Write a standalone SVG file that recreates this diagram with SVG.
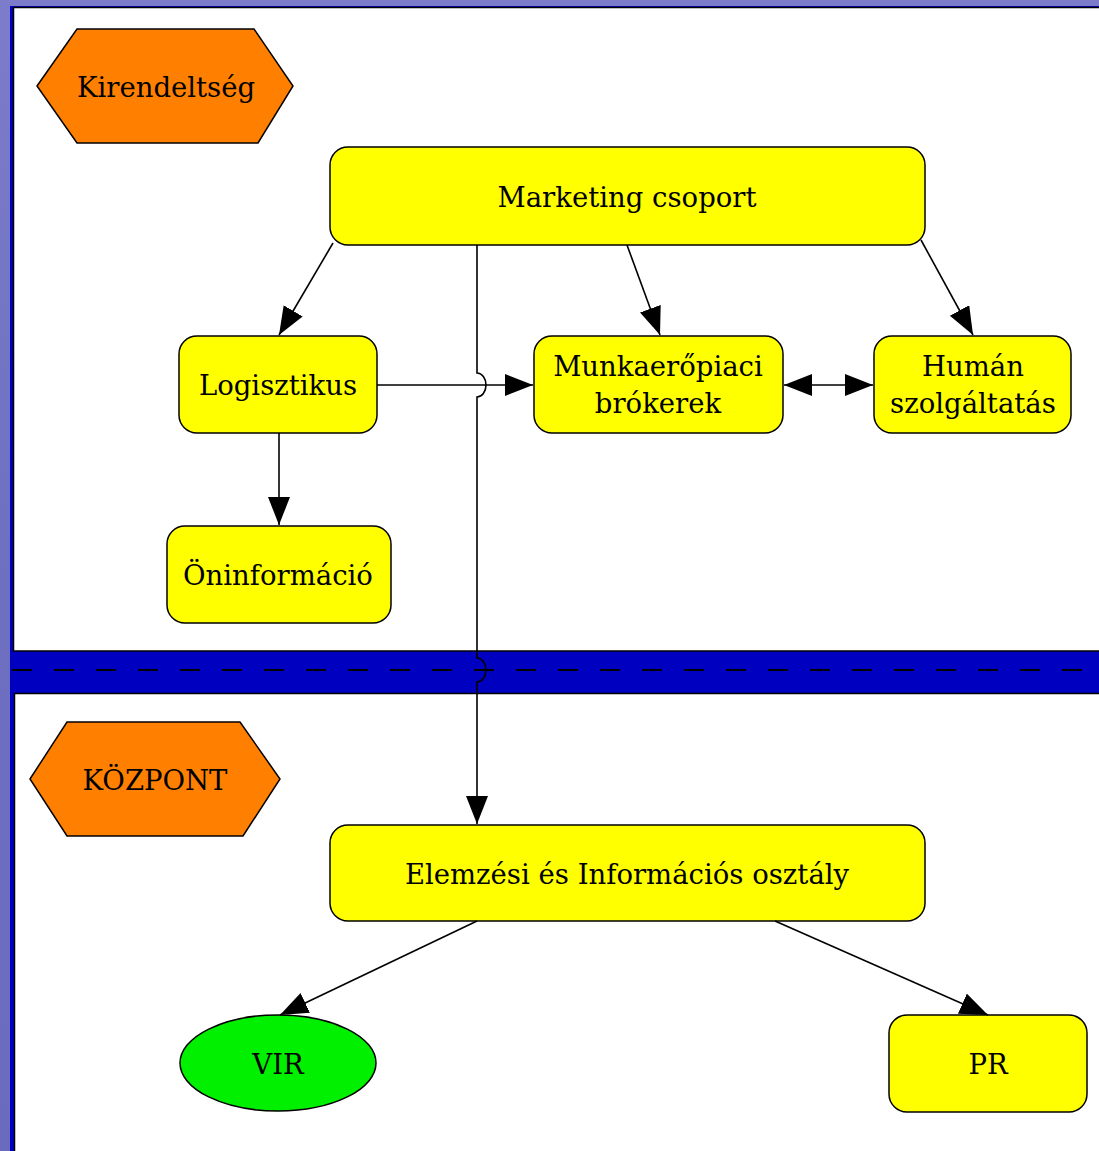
<svg xmlns="http://www.w3.org/2000/svg" width="1099" height="1151" viewBox="0 0 1099 1151">
<defs>
<linearGradient id="bg" x1="0" y1="0" x2="0" y2="1">
<stop offset="0" stop-color="#7c7cca"/>
<stop offset="0.5" stop-color="#6f6fc2"/>
<stop offset="1" stop-color="#6a6abf"/>
</linearGradient>
<marker id="arr" markerUnits="userSpaceOnUse" markerWidth="30" markerHeight="24" refX="28" refY="11" orient="auto-start-reverse" viewBox="0 0 30 24">
<path d="M0,0 L28,11 L0,22 z" fill="#000"/>
</marker>
</defs>
<style>
.node{fill:#ffff00;stroke:#000;stroke-width:1.5}
.hex{fill:#ff8000;stroke:#000;stroke-width:1.5}
.ell{fill:#00f000;stroke:#000;stroke-width:1.5}
.lbl{font-family:"DejaVu Serif","Liberation Serif",serif;font-size:27.5px;fill:#000;text-anchor:middle;dominant-baseline:central}
.edge{fill:none;stroke:#000;stroke-width:1.6}
.panel{fill:#fff;stroke:#000;stroke-width:1.5}
</style>
<rect x="0" y="0" width="1099" height="1151" fill="url(#bg)"/>
<rect x="10" y="6" width="1089" height="1145" fill="#0000c0"/>
<rect class="panel" x="13.5" y="7.5" width="1090" height="643.5"/>
<rect class="panel" x="14.5" y="693.5" width="1090" height="465"/>
<line x1="12" y1="670" x2="1099" y2="670" stroke="#000" stroke-width="2" stroke-dasharray="20 22"/>

<g id="kirendeltseg">
<polygon class="hex" points="37,86 77,29 254,29 293,86 258,143 77,143"/>
<text class="lbl" x="166" y="87">Kirendeltség</text>
</g>
<g id="kozpont">
<polygon class="hex" points="30,779 67,722 240,722 280,779 243,836 67,836"/>
<text class="lbl" x="155" y="780">KÖZPONT</text>
</g>
<g id="marketing">
<rect class="node" x="330" y="147" width="595" height="98" rx="18"/>
<text class="lbl" x="627" y="197">Marketing csoport</text>
</g>
<g id="logisztikus">
<rect class="node" x="179" y="336" width="198" height="97" rx="18"/>
<text class="lbl" x="278" y="385">Logisztikus</text>
</g>
<g id="munkaeropiaci">
<rect class="node" x="534" y="336" width="249" height="97" rx="18"/>
<text class="lbl" x="658" y="366">Munkaerőpiaci</text>
<text class="lbl" x="658" y="403">brókerek</text>
</g>
<g id="human">
<rect class="node" x="874" y="336" width="197" height="97" rx="18"/>
<text class="lbl" x="973" y="366">Humán</text>
<text class="lbl" x="973" y="403">szolgáltatás</text>
</g>
<g id="oninformacio">
<rect class="node" x="167" y="526" width="224" height="97" rx="18"/>
<text class="lbl" x="278" y="575">Öninformáció</text>
</g>
<g id="elemzesi">
<rect class="node" x="330" y="825" width="595" height="96" rx="18"/>
<text class="lbl" x="627" y="874">Elemzési és Információs osztály</text>
</g>
<g id="vir">
<ellipse class="ell" cx="278" cy="1063" rx="98" ry="48"/>
<text class="lbl" x="278" y="1064">VIR</text>
</g>
<g id="pr">
<rect class="node" x="889" y="1015" width="198" height="97" rx="18"/>
<text class="lbl" x="988" y="1064">PR</text>
</g>

<g id="connectors">
<line class="edge" x1="333" y1="243" x2="279" y2="335" marker-end="url(#arr)"/>
<line class="edge" x1="627" y1="245" x2="660" y2="335" marker-end="url(#arr)"/>
<line class="edge" x1="921" y1="240" x2="973" y2="335" marker-end="url(#arr)"/>
<path class="edge" d="M477,245 V373 A9,12 0 0 1 477,397 V658 A9,12 0 0 1 477,682 V824" marker-end="url(#arr)"/>
<line class="edge" x1="377" y1="385" x2="533" y2="385" marker-end="url(#arr)"/>
<line class="edge" x1="784" y1="385" x2="873" y2="385" marker-start="url(#arr)" marker-end="url(#arr)"/>
<line class="edge" x1="279" y1="433" x2="279" y2="525" marker-end="url(#arr)"/>
<line class="edge" x1="477" y1="921" x2="280" y2="1015" marker-end="url(#arr)"/>
<line class="edge" x1="775" y1="921" x2="988" y2="1015" marker-end="url(#arr)"/>
</g>
</svg>
